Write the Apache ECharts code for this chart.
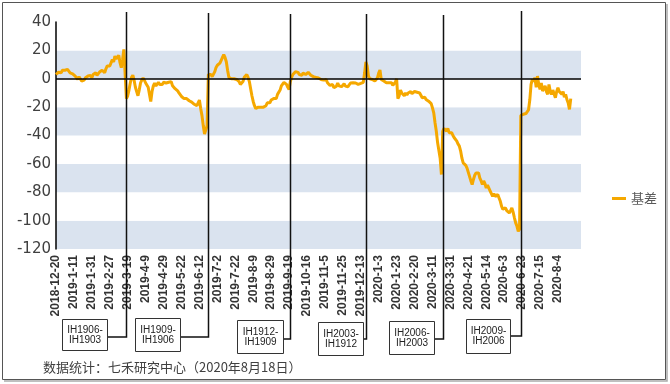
<!DOCTYPE html>
<html>
<head>
<meta charset="utf-8">
<script src="https://cdn.jsdelivr.net/npm/echarts@6/dist/echarts.min.js"></script>
<style>
html,body{margin:0;padding:0;background:#fff;}
#chart{width:670px;height:384px;}
</style>
</head>
<body>
<div id="chart"></div>
<script>
// ---- trading calendar (categories) ----
const startDate = '2018-12-20';
const endDate = '2020-08-18';
const holidays = ['2018-12-31','2019-01-01','2019-02-04','2019-02-05','2019-02-06','2019-02-07','2019-02-08',
  '2019-04-05','2019-05-01','2019-05-02','2019-05-03','2019-06-07','2019-09-13',
  '2019-10-01','2019-10-02','2019-10-03','2019-10-04','2019-10-07','2020-01-01',
  '2020-01-24','2020-01-27','2020-01-28','2020-01-29','2020-01-30','2020-01-31',
  '2020-04-06','2020-05-01','2020-05-04','2020-05-05','2020-06-25','2020-06-26'];
const labelEvery = 14;

// ---- basis values (基差) ----
const basisPart1 = [3,4,4.7,5.4,4.2,6,7,6,5.4,6.6,5.4,4.2,5,3.5,3,1.9,0.7,-0.5,1.4,0,-1.6,-2.4,-1,0.7,0,1.9,1.2,2.4,0.7,3,
  1.9,4.2,2.4,3.8,4.7,4.2,6,5,4.2,7,9,10,9,11.3,13.6,11.8,16,14,13.2,16.5,11.3,7.8,13.6,20.7,21.9];
const basisPart2 = [-14,-12,-8,-3,1,2.5,-1,-6,-9,-12,-8,-3,-1,0.5,-1,-3,-4,-6,-7,-16,-9,-5,-3,-5,-4,-2.5,-4,-3,-4,-2.5,
  -3.5,-3,-2.5,-2.5,-1.6,-2,-5,-6,-7,-8,-8.5,-10,-11,-12.5,-13.4,-14,-14.6,-14,-14.5,-15.5,-16,-16.5,-17,-18,-18.5,-19,-17,-15,-21,-26,
  -33,-39,-36,-33];
const basisPart3 = [3,4,3,1.5,0.5,5,8,9.5,10,11,13,15,17,15,12,6,1,0.5,0,0.7,0,0.5,-0.5,0,-2,-4,-5,-2,1,2,
  3,1,-2,-7,-12,-16,-19,-21,-22,-20,-21,-20,-19,-20,-21,-19,-17,-16,-17,-15,-16,-14,-13,-14,-11,-12,-8,-5,-4,-2.5,
  -1.5,-4,-6,-7.5,-2];
const basisPart4 = [1,3,4,5,6,4.5,3,2,2.5,4,3.5,3,4,4.5,3.5,2.5,2,1.5,2,1,2,0.5,1,-0.5,0.5,-1,-1.5,-0.5,-2.8,-4,
  -4.7,-5.6,-4,-6.4,-5,-5.2,-3,-5,-4,-5.6,-5.5,-3.5,-5.2,-3.8,-5.6,-5.6,-3,-1.6,-2.8,-2.3,-3,-2.5,-4,-3,-3.3,-2.3,-2.5,4,11.8,9,
  2,0,-0.5,-0.5,-1,-1.6,-1.6,0.5,4,6.2,-0.5,-1,-1.6,-2.3,-2.8,-2.8,-2.8,-3.3,-2.8,-4.7,-4,-2.5,0,-14,-12];
const basisPart5 = [-8,-10,-9,-12,-10,-11.5,-10,-11,-9,-10.5,-9.5,-9,-8.7,-9.5,-9,-10,-11,-13.4,-12.5,-13,-14.6,-14,-15.8,-16.5,-17.5,
  -20.5,-24,-31,-37,-45,-44,-56,-67.5];
const basisPart6 = [-37,-35,-34.6,-37,-35,-38,-39,-38,-40,-41.6,-42,-44,-46,-47.5,-51,-56,-59.3,-60.5,-61,-63,-66,-69,-72,-74.6,-71,
  -68,-66.4,-67.5,-66.4,-70,-72,-74.6,-72,-74,-77,-75,-76,-79,-81,-83,-81,-83,-82,-81.6,-84,-86.4,-90,-92,-93.4,-91,
  -93,-92,-94.6,-93,-91,-94,-98,-101.6,-104,-107.5,-106,-26,-27,-25,-26,-24.5,-24,-22,-15,-4,-0.5,-2,0.7,-6,1.9,
  -4,-7.5,-3,-8.7,-10,-5,-9,-11,-4,-9,-11,-8,-9,-13.4,-9,-6.4,-9,-8,-11,-9,-13,-11,-14.6,-17,-21.6,-14];
const seriesName = '基差';

// ---- annotations: contract roll dates and their labels ----
const rollDates = ['2019-3-18','2019-6-21','2019-9-20','2019-12-19','2020-3-23','2020-6-22'];
const rollLabels = ['IH1906-\nIH1903','IH1909-\nIH1906','IH1912-\nIH1909','IH2003-\nIH1912','IH2006-\nIH2003','IH2009-\nIH2006'];
const footerText = '数据统计：七禾研究中心（2020年8月18日）';

// build trading-day categories
function buildDates() {
  const out = [];
  const hs = new Set(holidays);
  let d = new Date(startDate + 'T00:00:00Z');
  const end = new Date(endDate + 'T00:00:00Z');
  while (d <= end) {
    const wd = d.getUTCDay();
    const y = d.getUTCFullYear(), m = d.getUTCMonth() + 1, day = d.getUTCDate();
    const iso = y + '-' + String(m).padStart(2,'0') + '-' + String(day).padStart(2,'0');
    if (wd !== 0 && wd !== 6 && !hs.has(iso)) out.push(y + '-' + m + '-' + day);
    d = new Date(d.getTime() + 86400000);
  }
  return out;
}
const dates = buildDates();
const basis = [].concat(basisPart1, basisPart2, basisPart3, basisPart4, basisPart5, basisPart6);
// the plot area runs a little past the last trading day
const axisCats = dates.concat(new Array(8).fill(''));

const chart = echarts.init(document.getElementById('chart'), null, {renderer: 'canvas'});
chart.setOption({
  animation: false,
  backgroundColor: '#fff',
  grid: {left: 56, right: 89, top: 22, bottom: 135},
  legend: {
    data: [seriesName], left: 607, top: 187, icon: 'rect', itemWidth: 14, itemHeight: 3, itemGap: 6,
    textStyle: {fontSize: 13, color: '#595959', fontFamily: 'Noto Sans CJK SC'}
  },
  xAxis: {
    type: 'category', data: axisCats, boundaryGap: false,
    axisLine: {show: false, onZero: false}, axisTick: {show: false}, splitLine: {show: false},
    axisLabel: {
      interval: function (idx) { return idx % labelEvery === 0 && idx < dates.length; },
      rotate: 90, fontSize: 12, fontWeight: 'bold', color: '#333', fontFamily: 'Arial', margin: 6
    }
  },
  yAxis: {
    type: 'value', min: -120, max: 40, interval: 20,
    axisLine: {show: true, lineStyle: {color: '#000', width: 1.5}},
    axisTick: {show: false}, splitLine: {show: false},
    splitArea: {show: true, areaStyle: {color: ['#DAE3EF', '#FFFFFF']}},
    axisLabel: {fontSize: 15, color: '#404040', fontFamily: 'DejaVu Sans', margin: 5}
  },
  series: [{
    name: seriesName, type: 'line', data: basis, showSymbol: false, symbol: 'none',
    lineStyle: {color: '#F5A800', width: 3}, itemStyle: {color: '#F5A800'},
    markLine: {
      silent: true, symbol: 'none', label: {show: false},
      lineStyle: {color: '#000', width: 1.5, type: 'solid'},
      data: [{yAxis: 0}]
    }
  }]
});

// annotation layout (boxes below the axis labels)
const boxes = [
  {x: 62, y: 319, w: 45, h: 31, cy: 337, top: 12},
  {x: 135, y: 318, w: 45, h: 33, cy: 337, top: 13},
  {x: 237, y: 320, w: 46, h: 33, cy: 339, top: 14},
  {x: 318, y: 322, w: 45, h: 33, cy: 339, top: 14},
  {x: 389, y: 321, w: 45, h: 33, cy: 339, top: 15},
  {x: 466, y: 319, w: 44, h: 34, cy: 336, top: 11}
];
const graphics = [];
rollDates.forEach(function (d, k) {
  const px = Math.round(chart.convertToPixel({xAxisIndex: 0}, d)) + 0.5;
  const b = boxes[k];
  graphics.push({
    type: 'polyline', z: 100,
    shape: {points: [[px, b.top], [px, b.cy], [b.x + b.w, b.cy]]},
    style: {stroke: '#111', lineWidth: 1.5, fill: null}
  });
  graphics.push({
    type: 'rect', z: 100,
    shape: {x: b.x + 0.5, y: b.y + 0.5, width: b.w, height: b.h},
    style: {fill: '#fff', stroke: '#333', lineWidth: 1}
  });
  graphics.push({
    type: 'text', z: 101, x: b.x + b.w / 2 + 0.5, y: b.y + b.h / 2 + 0.5,
    style: {text: rollLabels[k], font: '10px Arial', fill: '#222', align: 'center', verticalAlign: 'middle', lineHeight: 10}
  });
});
graphics.push({
  type: 'text', z: 101, x: 43, y: 367,
  style: {text: footerText, font: '13px "Noto Sans CJK SC"', fill: '#404040', verticalAlign: 'middle'}
});
graphics.push({type: 'rect', z: 99, shape: {x: 2.5, y: 2.5, width: 663, height: 377}, style: {fill: null, stroke: '#555', lineWidth: 1}});
graphics.push({type: 'polyline', z: 99, shape: {points: [[667, 4], [667, 381], [4, 381]]}, style: {fill: null, stroke: '#aaa', lineWidth: 1.5}});
chart.setOption({graphic: graphics});
</script>
</body>
</html>
